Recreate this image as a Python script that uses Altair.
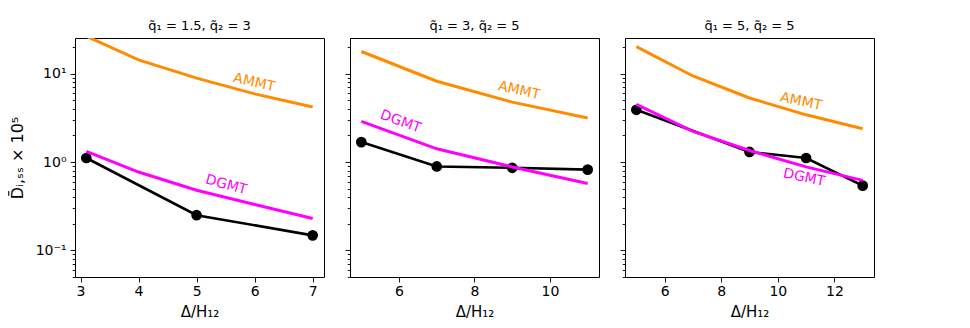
import altair as alt
import pandas as pd

# ---------------- data ----------------
titles = ["q̃₁ = 1.5, q̃₂ = 3", "q̃₁ = 3, q̃₂ = 5", "q̃₁ = 5, q̃₂ = 5"]

sim_x = [[3.1, 5, 7], [5, 7, 9, 11], [5, 9, 11, 13]]
sim_y = [[1.11, 0.25, 0.148], [1.68, 0.89, 0.86, 0.82], [3.9, 1.30, 1.11, 0.54]]

dgmt_x = [[3.1, 4, 5, 6, 7], [5, 7, 9, 11], [5, 7, 9, 11, 13]]
dgmt_y = [[1.32, 0.77, 0.48, 0.33, 0.23], [2.88, 1.41, 0.88, 0.57], [4.5, 2.22, 1.35, 0.88, 0.62]]

ammt_x = [[3.1, 4, 5, 6, 7], [5, 7, 9, 11], [5, 7, 9, 11, 13]]
ammt_y = [[26.5, 14.3, 8.9, 5.9, 4.2], [17.8, 8.2, 4.76, 3.14], [20.2, 9.4, 5.3, 3.42, 2.38]]

# curve labels: (x, y, angle)
ammt_lab = [(5.99, 7.9, 13), (9.18, 6.4, 13), (10.82, 4.8, 12)]
dgmt_lab = [(5.51, 0.55, 15), (6.04, 2.85, 20), (10.93, 0.665, 12)]

x_domains = [[2.905, 7.195], [4.7, 11.3], [4.6, 13.4]]
x_ticks = [[3, 4, 5, 6, 7], [6, 8, 10], [6, 8, 10, 12]]
y_domain = [0.05, 25.3]
y_ticks = [m * 10.0 ** e for e in (-2, -1, 0, 1) for m in range(1, 10)]
y_ticks = [round(v, 4) for v in y_ticks if y_domain[0] - 1e-9 <= v <= y_domain[1]]

ORANGE = "#ff8c00"
MAGENTA = "#ff00ff"
FONT = "DejaVu Sans"

label_expr = ("datum.value == 0.1 ? '10⁻¹' : datum.value == 1 ? '10⁰' : "
              "datum.value == 10 ? '10¹' : ''")
major_test = "datum.value == 0.1 || datum.value == 1 || datum.value == 10"

panels = []
for i in range(3):
    df_sim = pd.DataFrame({"x": sim_x[i], "y": sim_y[i]})
    df_d = pd.DataFrame({"x": dgmt_x[i], "y": dgmt_y[i]})
    df_a = pd.DataFrame({"x": ammt_x[i], "y": ammt_y[i]})
    df_lab = pd.DataFrame({
        "x": [ammt_lab[i][0], dgmt_lab[i][0]],
        "y": [ammt_lab[i][1], dgmt_lab[i][1]],
        "t": ["AMMT", "DGMT"],
    })

    xs = alt.Scale(domain=x_domains[i], nice=False, zero=False)
    ys = alt.Scale(type="log", domain=y_domain, nice=False)

    x_axis = alt.Axis(values=x_ticks[i], title="Δ/H₁₂", grid=False, domain=False,
                      tickSize=5, labelFontSize=14, titleFontSize=15,
                      labelPadding=2, titlePadding=6, titleFontWeight="normal",
                      labelFlush=False)
    if i == 0:
        y_axis = alt.Axis(values=y_ticks, labelExpr=label_expr, labelOverlap=False,
                          title="D̄ᵢ,ₛₛ × 10⁵", grid=False, domain=False,
                          tickSize={"condition": {"test": major_test, "value": 5}, "value": 2.8},
                          labelFontSize=14, titleFontSize=16, labelPadding=4,
                          titlePadding=10, titleFontWeight="normal", labelFlush=False)
    else:
        y_axis = alt.Axis(values=y_ticks, labels=False, title=None, grid=False, domain=False,
                          tickSize={"condition": {"test": major_test, "value": 5}, "value": 2.8})

    X = alt.X("x:Q", scale=xs, axis=x_axis)
    Y = alt.Y("y:Q", scale=ys, axis=y_axis)

    sim_line = alt.Chart(df_sim).mark_line(color="black", strokeWidth=2.6, clip=True).encode(x=X, y=Y)
    sim_pts = alt.Chart(df_sim).mark_circle(color="black", size=115, opacity=1, clip=True).encode(x=X, y=Y)
    d_line = alt.Chart(df_d).mark_line(color=MAGENTA, strokeWidth=3, clip=True).encode(x=X, y=Y)
    a_line = alt.Chart(df_a).mark_line(color=ORANGE, strokeWidth=3, clip=True).encode(x=X, y=Y)
    a_text = alt.Chart(df_lab.iloc[[0]]).mark_text(
        color=ORANGE, fontSize=14, font=FONT, angle=ammt_lab[i][2]).encode(x=X, y=Y, text="t:N")
    d_text = alt.Chart(df_lab.iloc[[1]]).mark_text(
        color=MAGENTA, fontSize=14, font=FONT, angle=dgmt_lab[i][2]).encode(x=X, y=Y, text="t:N")

    layer = alt.layer(sim_line, sim_pts, d_line, a_line, a_text, d_text).properties(
        width=249, height=239,
        title=alt.TitleParams(titles[i], fontSize=13, font=FONT, fontWeight="normal",
                              offset=5, anchor="middle"),
    )
    panels.append(layer)

chart = alt.hconcat(*panels, spacing=19).properties(
    padding={"left": 0, "top": 11, "right": 0, "bottom": 0}
).configure(font=FONT).configure_view(
    stroke="black", strokeWidth=1
).configure_axis(
    tickColor="black", tickWidth=0.9, labelColor="black", titleColor="black",
    labelFont=FONT, titleFont=FONT
)

chart.save("out.html", embed_options={"renderer": "svg", "actions": False})
